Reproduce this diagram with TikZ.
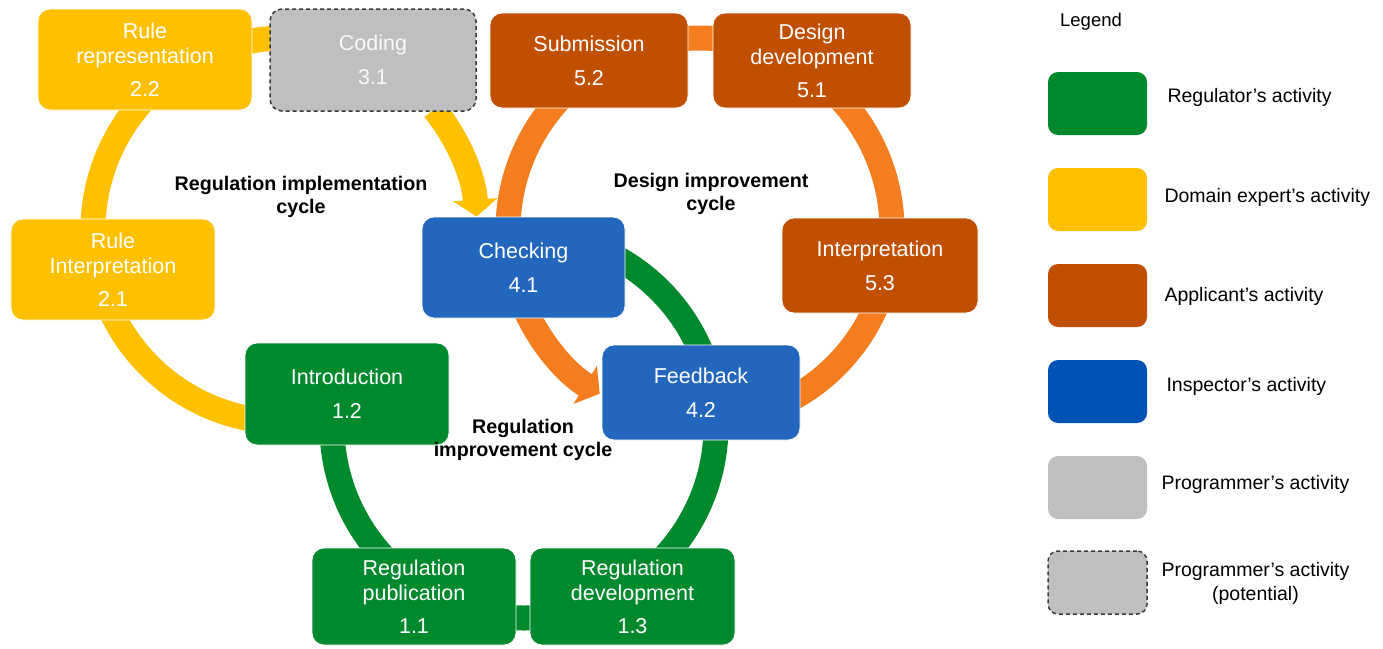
\documentclass[tikz,border=0pt]{standalone}
\usepackage{fontspec}
\setmainfont{Liberation Sans}
\usetikzlibrary{arrows.meta,calc}
\definecolor{reggreen}{HTML}{00892D}
\definecolor{domyellow}{HTML}{FFC000}
\definecolor{appbrown}{HTML}{C05000}
\definecolor{arcorange}{HTML}{F47D20}
\definecolor{insblue}{HTML}{2266BE}
\definecolor{legblue}{HTML}{0052B4}
\definecolor{proggray}{HTML}{BFBFBF}
\definecolor{dashgray}{HTML}{3A3A3A}
\tikzset{
  box/.style={rounded corners=12pt, draw=white, line width=0.8pt, text=white,
    align=center, inner sep=0pt, font=\fontsize{21.5}{25}\selectfont},
  lbox/.style={rounded corners=10pt, minimum width=99pt, minimum height=63pt, inner sep=0pt},
  cyclelabel/.style={align=center, font=\bfseries\fontsize{19.7}{23}\selectfont, text=black},
  legtext/.style={anchor=west, align=center, font=\fontsize{19.5}{24}\selectfont, text=black},
  band/.style={line width=25pt},
  bandarrow/.style={line width=25pt, -{Triangle[width=44pt,length=17pt]}},
}
\begin{document}
\begin{tikzpicture}[x=1pt,y=-1pt]
\useasboundingbox (0,0) rectangle (1383,648);
% circle centres
\coordinate (cA) at (285,230);
\coordinate (cB) at (700,230);
\coordinate (cC) at (524,426);
% implementation cycle (yellow)
\draw[band, domyellow] ($(cA)+(222:192)$) arc[start angle=222, end angle=180, radius=192];
\draw[band, domyellow] ($(cA)+(155:192)$) arc[start angle=155, end angle=98, radius=192];
\draw[band, domyellow] ($(cA)+(255:192)$) arc[start angle=255, end angle=285, radius=192];
\draw[bandarrow, domyellow] ($(cA)+(321:192)$) arc[start angle=321, end angle=356, radius=192];
% design improvement cycle (orange)
\draw[band, arcorange] ($(cB)+(180:192)$) arc[start angle=180, end angle=223, radius=192];
\draw[band, arcorange] ($(cB)+(255:192)$) arc[start angle=255, end angle=285, radius=192];
\draw[band, arcorange] ($(cB)+(317:192)$) arc[start angle=317, end angle=360, radius=192];
\draw[band, arcorange] ($(cB)+(20:192)$) arc[start angle=20, end angle=62, radius=192];
\draw[bandarrow, arcorange] ($(cB)+(157:192)$) arc[start angle=157, end angle=121.5, radius=192];
% regulation improvement cycle (green)
\draw[band, reggreen] ($(cC)+(178:192)$) arc[start angle=178, end angle=136, radius=192];
\draw[band, reggreen] ($(cC)+(100:192)$) arc[start angle=100, end angle=80, radius=192];
\draw[band, reggreen] ($(cC)+(44:192)$) arc[start angle=44, end angle=2, radius=192];
\draw[band, reggreen] ($(cC)+(-22:192)$) arc[start angle=-22, end angle=-62, radius=192];
% activity boxes
\node[box, fill=domyellow, minimum width=214pt, minimum height=101pt] (n22) at (145,59.5) {Rule\\representation\\[8pt]2.2};
\node[box, fill=proggray, draw=dashgray, line width=1.5pt, dash pattern=on 4pt off 3pt, text=white!95!gray, minimum width=206pt, minimum height=102pt] (n31) at (373,60) {Coding\\[9pt]3.1};
\node[box, fill=appbrown, minimum width=198pt, minimum height=95pt] (n52) at (589,60.5) {Submission\\[9pt]5.2};
\node[box, fill=appbrown, minimum width=198pt, minimum height=95pt] (n51) at (812,60.5) {Design\\development\\[8pt]5.1};
\node[box, fill=domyellow, minimum width=204pt, minimum height=101pt] (n21) at (113,269.5) {Rule\\Interpretation\\[8pt]2.1};
\node[box, fill=insblue, minimum width=203pt, minimum height=101pt] (n41) at (523.5,267.5) {Checking\\[9pt]4.1};
\node[box, fill=appbrown, minimum width=196pt, minimum height=95pt] (n53) at (880,265.5) {Interpretation\\[9pt]5.3};
\node[box, fill=reggreen, minimum width=204pt, minimum height=102pt] (n12) at (347,394) {Introduction\\[9pt]1.2};
\node[box, fill=insblue, minimum width=198pt, minimum height=95pt] (n42) at (701,392.5) {Feedback\\[9pt]4.2};
\node[box, fill=reggreen, minimum width=204pt, minimum height=97pt] (n11) at (414,596.5) {Regulation\\publication\\[8pt]1.1};
\node[box, fill=reggreen, minimum width=205pt, minimum height=97pt] (n13) at (632.5,596.5) {Regulation\\development\\[8pt]1.3};
% cycle labels
\node[cyclelabel] (lab1) at (301,196.5) {Regulation implementation\\cycle};
\node[cyclelabel] (lab2) at (711,193.5) {Design improvement\\cycle};
\node[cyclelabel] (lab3) at (523,440) {Regulation\\improvement cycle};
% legend
\node[font=\fontsize{18.5}{22}\selectfont] (legt) at (1091,22) {Legend};
\node[lbox, fill=reggreen] (lg1) at (1097.5,103.5) {};
\node[lbox, fill=domyellow] (lg2) at (1097.5,199.5) {};
\node[lbox, fill=appbrown] (lg3) at (1097.5,295.5) {};
\node[lbox, fill=legblue] (lg4) at (1097.5,391.5) {};
\node[lbox, fill=proggray] (lg5) at (1097.5,487.5) {};
\node[lbox, fill=proggray, draw=dashgray, line width=1.5pt, dash pattern=on 4pt off 3pt] (lg6) at (1097.5,582.5) {};
\node[legtext] (lt1) at (1164,97) {Regulator’s activity};
\node[legtext] (lt2) at (1161,197) {Domain expert’s activity};
\node[legtext] (lt3) at (1161,296) {Applicant’s activity};
\node[legtext] (lt4) at (1163,386) {Inspector’s activity};
\node[legtext] (lt5) at (1158,484) {Programmer’s activity};
\node[legtext] (lt6) at (1158,583) {Programmer’s activity\\(potential)};
\end{tikzpicture}
\end{document}
